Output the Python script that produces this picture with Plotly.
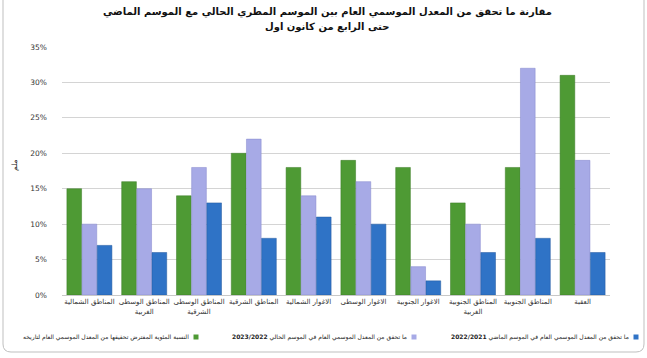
import plotly.graph_objects as go

categories = [
    "المناطق الشمالية",
    "المناطق الوسطى<br>الغربية",
    "المناطق الوسطى<br>الشرقية",
    "المناطق الشرقية",
    "الاغوار الشمالية",
    "الاغوار الوسطى",
    "الاغوار الجنوبية",
    "المناطق الجنوبية<br>الغربية",
    "المناطق الجنوبية",
    "العقبة",
]
expected = [15, 16, 14, 20, 18, 19, 18, 13, 18, 31]
current = [10, 15, 18, 22, 14, 16, 4, 10, 32, 19]
previous = [7, 6, 13, 8, 11, 10, 2, 6, 8, 6]

name_expected = "النسبة المئوية المفترض تحقيقها من المعدل الموسمي العام لتاريخه"
name_current = "ما تحقق من المعدل الموسمي العام في الموسم الحالي <b>2023/2022</b>"
name_previous = "ما تحقق من المعدل الموسمي العام في الموسم الماضي <b>2022/2021</b>"

title_lines = ["مقارنة ما تحقق من المعدل الموسمي العام بين الموسم المطري الحالي مع الموسم الماضي",
               "حتى الرابع من كانون اول"]
ytitle = "ملم"
yticks = [0, 5, 10, 15, 20, 25, 30, 35]
yticktext = ["0%", "5%", "10%", "15%", "20%", "25%", "30%", "35%"]

FONT = "DejaVu Sans, Arial, sans-serif"
C_GREEN = "#4e9a34"
C_LAV = "#a7aae6"
C_BLUE = "#2f73c6"

W, H = 647, 358
L, R, T, B = 62, 37, 47, 63
pw = W - L - R
ph = H - T - B


def px_x(x):
    return (x - L) / pw


def px_y(y):
    return (H - B - y) / ph


fig = go.Figure()
fig.add_trace(go.Bar(x=categories, y=expected, name=name_expected, showlegend=False,
                     marker=dict(color=C_GREEN, line=dict(color="#3a7a25", width=0.5))))
fig.add_trace(go.Bar(x=categories, y=current, name=name_current, showlegend=False,
                     marker=dict(color=C_LAV, line=dict(color="#8486cc", width=0.5))))
fig.add_trace(go.Bar(x=categories, y=previous, name=name_previous, showlegend=False,
                     marker=dict(color=C_BLUE, line=dict(color="#22599e", width=0.5))))

fig.update_layout(
    width=W, height=H,
    margin=dict(l=L, r=R, t=T, b=B),
    paper_bgcolor="white", plot_bgcolor="white",
    font=dict(family=FONT, size=8, color="#222"),
    barmode="group", bargap=0.17, bargroupgap=0.03,
    showlegend=False,
    xaxis=dict(tickfont=dict(size=7, color="#333"), tickangle=0, showline=True,
               linecolor="#c8c8c8", ticks=""),
    yaxis=dict(range=[0, 35], tickvals=yticks, ticktext=yticktext, showgrid=True,
               gridcolor="#d4d4d4", gridwidth=1, zeroline=False, showline=False,
               tickfont=dict(size=7.5, color="#333"), ticklabelstandoff=14),
)

# title (two centred bold lines)
fig.add_annotation(text="<b>" + title_lines[0] + "</b>", xref="paper", yref="paper",
                   x=px_x(327), y=px_y(12), xanchor="center", yanchor="middle",
                   showarrow=False, font=dict(size=10, color="#111"))
fig.add_annotation(text="<b>" + title_lines[1] + "</b>", xref="paper", yref="paper",
                   x=px_x(327), y=px_y(27), xanchor="center", yanchor="middle",
                   showarrow=False, font=dict(size=10, color="#111"))

# y-axis title
fig.add_annotation(text=ytitle, xref="paper", yref="paper", x=px_x(14), y=px_y(165),
                   xanchor="center", yanchor="middle", textangle=-90, showarrow=False,
                   font=dict(size=7.5, color="#222"))

# legend built from text + small squares (symbol sits right of its text)
legend_items = [(name_expected, C_GREEN, 196), (name_current, C_LAV, 414), (name_previous, C_BLUE, 636)]
ly = 337
for text, col, sx in legend_items:
    fig.add_shape(type="rect", xref="paper", yref="paper",
                  x0=px_x(sx - 2.5), x1=px_x(sx + 2.5), y0=px_y(ly + 2.5), y1=px_y(ly - 2.5),
                  fillcolor=col, line=dict(width=0))
    fig.add_annotation(text=text, xref="paper", yref="paper", x=px_x(sx - 5), y=px_y(ly),
                       xanchor="right", yanchor="middle", showarrow=False,
                       font=dict(size=6, color="#222"))

# outer chart frame with rounded bottom corners
x0, x1, y0, y1, r = 3, 644, -5, 352, 8
path = (f"M {px_x(x0)} {px_y(y0)} L {px_x(x0)} {px_y(y1 - r)} "
        f"Q {px_x(x0)} {px_y(y1)} {px_x(x0 + r)} {px_y(y1)} "
        f"L {px_x(x1 - r)} {px_y(y1)} Q {px_x(x1)} {px_y(y1)} {px_x(x1)} {px_y(y1 - r)} "
        f"L {px_x(x1)} {px_y(y0)}")
fig.add_shape(type="path", path=path, xref="paper", yref="paper",
              line=dict(color="#bfbfbf", width=1), layer="below")

fig.write_html("out.html", config={"displayModeBar": False},
               post_script="document.body.style.margin='0';document.body.style.overflow='hidden';")
